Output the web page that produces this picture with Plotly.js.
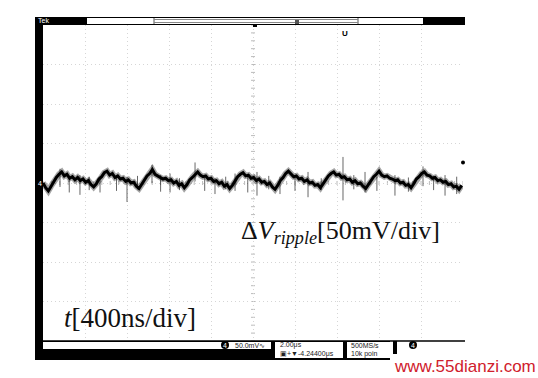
<!DOCTYPE html>
<html>
<head>
<meta charset="utf-8">
<script src="https://cdn.plot.ly/plotly-3.0.1.min.js"></script>
<style>html,body{margin:0;padding:0;background:#fff;}#chart{width:538px;height:378px;}</style>
</head>
<body>
<div id="chart"></div>
<script>
// ---- Data (read from the oscilloscope screen) ----
// sample interval of the displayed record, ns
const sampleStepNs = 25.4;
// ripple voltage, mV (CH4, 50 mV/div)
const rippleMv = [
  0, -6, -10, -4, 2, 7, 11, 14,
  9, 11, 6, 8, 4, 7, 3, 5, 1, 3, -2, -5, -1, 5, 8, 13, 15,
  10, 12, 7, 9, 5, 6, 2, 4, 0, 1, -4, -7, -2, 3, 9, 12, 17,
  11, 9, 8, 5, 6, 3, 4, 0, 2, -3, -1, -6, -2, 4, 7, 11, 14,
  10, 8, 9, 5, 6, 2, 3, -1, 1, -4, -2, -7, -3, 2, 8, 11, 13,
  9, 10, 6, 7, 3, 5, 1, 2, -2, 0, -5, -8, -3, 3, 7, 12, 15,
  11, 8, 9, 5, 6, 2, 4, 0, 1, -3, -2, -6, -1, 4, 9, 12, 14,
  10, 11, 7, 8, 4, 5, 1, 3, -1, 0, -4, -7, -2, 3, 8, 11, 15,
  10, 8, 9, 6, 5, 3, 4, 0, 1, -3, -2, -6, -1, 5, 8, 12, 14,
  10, 9, 6, 7, 3, 4, 1, 2, -2, -1, -5, -4, -8, -3
];
// switching spikes: time (ns), top (mV), bottom (mV)
const spikeT  = [162, 250, 352, 440, 543, 700, 800, 900, 1038, 1120, 1210, 1300, 1448, 1540, 1638, 1740, 1829, 1950, 2038, 2150, 2257, 2400, 2524, 2650, 2857, 2960, 3067, 3180, 3352, 3480, 3619, 3720, 3829, 3940];
const spikeHi = [18, 9, 10, 8, 8, 7, 8, 9, 23, 10, 12, 6, 26, 9, 6, 8, 12, 10, 14, 9, 8, 10, 14, 6, 33, 10, 14, 8, 10, 7, 21, 9, 10, 8];
const spikeLo = [-5, -12, -15, -9, -12, -10, -24, -8, 0, -11, -12, -9, 2, -10, -14, -8, -10, -12, -16, -8, -14, -10, -18, -9, -22, -8, -12, -10, -16, -11, -4, -9, -16, -14];
// axis settings
const timeRangeNs = [0, 4000];   // 10 div x 400 ns
const voltRangeMv = [-200, 200]; // 8 div x 50 mV
const timeDivNs = 400;
const voltDivMv = 50;

const timeNs = rippleMv.map((_, i) => i * sampleStepNs);

// spikes as one broken line
const sx = [], sy = [];
spikeT.forEach((t, i) => { sx.push(t, t, null); sy.push(spikeLo[i], spikeHi[i], null); });

// ---- pixel helpers for the oscilloscope frame ----
const L = 43, R = 463, T = 25, B = 341;
const X = p => (p - L) / (R - L);
const Y = p => (B - p) / (B - T);

const shapes = [];
function rect(x0, y0, x1, y1, fill, line) {
  shapes.push({type:'rect', xref:'paper', yref:'paper', x0:X(x0), x1:X(x1), y0:Y(y1), y1:Y(y0),
    fillcolor: fill, line: line || {width:0}, layer:'above'});
}
function seg(x0, y0, x1, y1, color, w) {
  shapes.push({type:'line', xref:'paper', yref:'paper', x0:X(x0), x1:X(x1), y0:Y(y0), y1:Y(y1),
    line:{color:color, width:w}, layer:'above'});
}
// minor ticks on centre lines
for (let k = 0; k <= 50; k++) {
  const t = timeRangeNs[0] + k * timeDivNs / 5;
  shapes.push({type:'line', xref:'x', yref:'paper', x0:t, x1:t, y0:Y(185), y1:Y(181), line:{color:'#bbb', width:1}, layer:'below'});
}
for (let k = 0; k <= 40; k++) {
  const v = voltRangeMv[0] + k * voltDivMv / 5;
  shapes.push({type:'line', xref:'paper', yref:'y', x0:X(251), x1:X(255), y0:v, y1:v, line:{color:'#bbb', width:1}, layer:'below'});
}
// top bar
rect(35, 17, 465, 25, '#000');
rect(87, 18, 423, 24, '#fff');
seg(154, 18, 154, 24, '#555', 1);
seg(358, 18, 358, 24, '#555', 1);
seg(154, 19.5, 358, 19.5, '#888', 1);
seg(154, 22.5, 358, 22.5, '#888', 1);
rect(295, 20, 299, 24, '#555');
rect(253, 24, 257, 27, '#000');
// left bar
rect(35, 17, 43, 360, '#000');
// bottom status bar
rect(35, 341, 390, 360, '#000');
rect(43, 342, 271, 349, '#fff');
rect(275, 342, 343, 358, '#fff');
rect(347, 342, 392, 358, '#fff');
seg(35, 341, 465, 341, '#000', 1.5);
rect(393, 341, 397, 354, '#000');
// channel circles
shapes.push({type:'circle', xref:'paper', yref:'paper', x0:X(221), x1:X(229), y0:Y(349), y1:Y(341), fillcolor:'#000', line:{width:0}, layer:'above'});
shapes.push({type:'circle', xref:'paper', yref:'paper', x0:X(409), x1:X(417), y0:Y(349), y1:Y(341), fillcolor:'#000', line:{width:0}, layer:'above'});

function ann(text, x, y, opts) {
  return Object.assign({text:text, xref:'paper', yref:'paper', x:X(x), y:Y(y), showarrow:false,
    xanchor:'left', yanchor:'middle', font:{family:'Liberation Sans, Arial', size:7, color:'#222'}}, opts || {});
}
const annotations = [
  ann('Tek', 36, 21, {font:{family:'Liberation Sans', size:7, color:'#fff'}}),
  ann('4', 36, 183, {font:{family:'Liberation Sans', size:7, color:'#fff'}}),
  ann('<b>U</b>', 345, 33, {xanchor:'center', font:{family:'Liberation Sans', size:8, color:'#000'}}),
  ann('4', 225, 345, {xanchor:'center', font:{family:'Liberation Sans', size:7, color:'#fff'}}),
  ann('4', 413, 345, {xanchor:'center', font:{family:'Liberation Sans', size:7, color:'#fff'}}),
  ann('50.0mV∿', 233, 345),
  ann('2.00μs', 278, 345),
  ann('▣+▼-4.24400μs', 278, 354),
  ann('500MS/s', 349, 345),
  ann('10k poin', 349, 354),
  ann('Δ<i>V</i><sub><i>ripple</i></sub>[50mV/div]', 239, 232,
      {font:{family:'Liberation Serif, Times New Roman', size:26, color:'#111'}}),
  ann('<i>t</i>[400ns/div]', 62, 318,
      {font:{family:'Liberation Serif, Times New Roman', size:27, color:'#111'}}),
  ann('www.55dianzi.com', 392, 366,
      {font:{family:'Liberation Sans, Arial', size:17, color:'#d0202c'}})
];

const traces = [
  {x: timeNs, y: rippleMv, mode:'lines', line:{color:'rgba(0,0,0,0.35)', width:6}, hoverinfo:'skip', showlegend:false},
  {x: sx, y: sy, mode:'lines', line:{color:'rgba(0,0,0,0.6)', width:1}, hoverinfo:'skip', showlegend:false},
  {x: timeNs, y: rippleMv, mode:'lines', line:{color:'#000', width:3}, hoverinfo:'skip', showlegend:false},
  {x: [timeRangeNs[1]], y: [26], mode:'markers', marker:{color:'#000', size:4}, hoverinfo:'skip', showlegend:false,
   cliponaxis:false}
];

const gridStyle = {gridcolor:'#d6d6d6', griddash:'1px,3px', gridwidth:1, showticklabels:false,
  ticks:'', zeroline:false, showline:false, fixedrange:true};

const layout = {
  width:538, height:378,
  margin:{l:L, r:538-R, t:T, b:378-B, pad:0},
  paper_bgcolor:'#fff', plot_bgcolor:'#fff',
  showlegend:false,
  xaxis: Object.assign({range:timeRangeNs, dtick:timeDivNs, tick0:0}, gridStyle),
  yaxis: Object.assign({range:voltRangeMv, dtick:voltDivMv, tick0:0}, gridStyle),
  shapes: shapes,
  annotations: annotations
};

Plotly.newPlot('chart', traces, layout, {staticPlot:true, displayModeBar:false});
</script>
</body>
</html>
